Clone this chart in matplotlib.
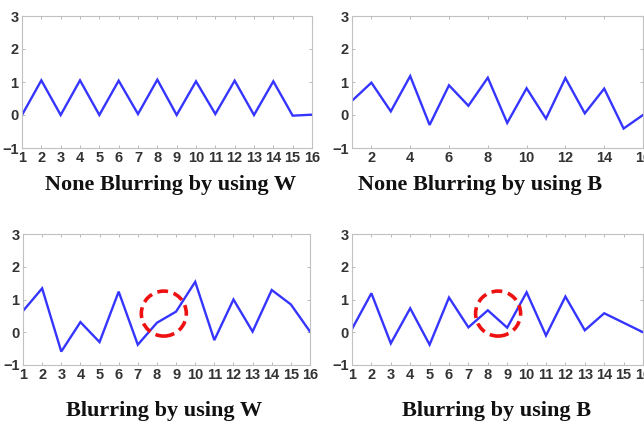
import matplotlib
matplotlib.use("Agg")
import matplotlib.pyplot as plt
from matplotlib.patches import Ellipse
import numpy as np

x = list(range(1, 17))
none_w = [0, 1.05, 0, 1.05, 0, 1.04, 0.03, 1.07, 0, 1.02, 0.03, 1.04, 0, 1.02, -0.02, 0.01]
none_b = [0.43, 0.98, 0.11, 1.18, -0.30, 0.90, 0.28, 1.13, -0.24, 0.81, -0.11, 1.12, 0.05, 0.80, -0.41, 0.0]
blur_w = [0.65, 1.34, -0.59, 0.31, -0.30, 1.24, -0.38, 0.29, 0.63, 1.54, -0.24, 1.00, 0.02, 1.29, 0.85, 0.02]
blur_b = [0.10, 1.19, -0.34, 0.73, -0.38, 1.06, 0.15, 0.67, 0.14, 1.22, -0.10, 1.09, 0.06, 0.58, 0.29, 0.0]

titles = ["None Blurring by using W", "None Blurring by using B",
          "Blurring by using W", "Blurring by using B"]
yticks = [-1, 0, 1, 2, 3]
xticks_all = list(range(1, 17))
xticks_even = list(range(2, 17, 2))

# circle annotation centres (data) for the blurred panels
circle_w = (8.36, 0.57)
circle_b = (8.53, 0.57)
circle_radius_px = 22.5

W, H = 644, 421
fig = plt.figure(figsize=(W / 100, H / 100), dpi=100)

def px_axes(l, r, t, b):
    return fig.add_axes([l / W, 1 - b / H, (r - l) / W, (b - t) / H])

axes = [
    px_axes(22, 312, 16, 148),
    px_axes(352, 643, 16, 148),
    px_axes(23, 310, 234, 365),
    px_axes(352, 643, 234, 365),
]
series = [none_w, none_b, blur_w, blur_b]
xt = [xticks_all, xticks_even, xticks_all, xticks_all]
tick_font = ["Liberation Sans Narrow", "Liberation Sans", "DejaVu Sans"]

for ax, ys, ticks in zip(axes, series, xt):
    ax.plot(x, ys, color="#3535ff", lw=1.7, solid_joinstyle="miter")
    ax.set_xlim(1, 16)
    ax.set_ylim(-1, 3)
    ax.set_xticks(ticks)
    ax.set_yticks(yticks)
    ax.set_yticklabels(["\u22121" if v == -1 else str(v) for v in yticks])
    for s in ax.spines.values():
        s.set_color("#c0c0c0")
        s.set_linewidth(0.8)
    ax.tick_params(direction="in", length=2.5, width=0.6, color="#b0b0b0",
                   top=True, right=True, labelsize=10.5, labelcolor="#333333", pad=2.5)
    for lab in ax.get_xticklabels() + ax.get_yticklabels():
        lab.set_fontweight("bold")
        lab.set_family(tick_font)

fig.canvas.draw()
for ax, c in [(axes[2], circle_w), (axes[3], circle_b)]:
    bb = ax.get_window_extent()
    wx = 2 * circle_radius_px / bb.width * (15)
    hy = 2 * circle_radius_px / bb.height * (4)
    e = Ellipse(c, wx, hy, fill=False, edgecolor="#ee1111", lw=2.6,
                linestyle=(0, (3, 1.6)), zorder=5)
    ax.add_patch(e)

title_pos = [(171, 190), (480, 190), (164, 416), (497, 416)]
for t, (tx, ty) in zip(titles, title_pos):
    fig.text(tx / W, 1 - ty / H, t, ha="center", va="baseline",
             family="Liberation Serif", fontweight="bold", fontsize=16, color="#111111")

fig.savefig("out.png", dpi=100)
